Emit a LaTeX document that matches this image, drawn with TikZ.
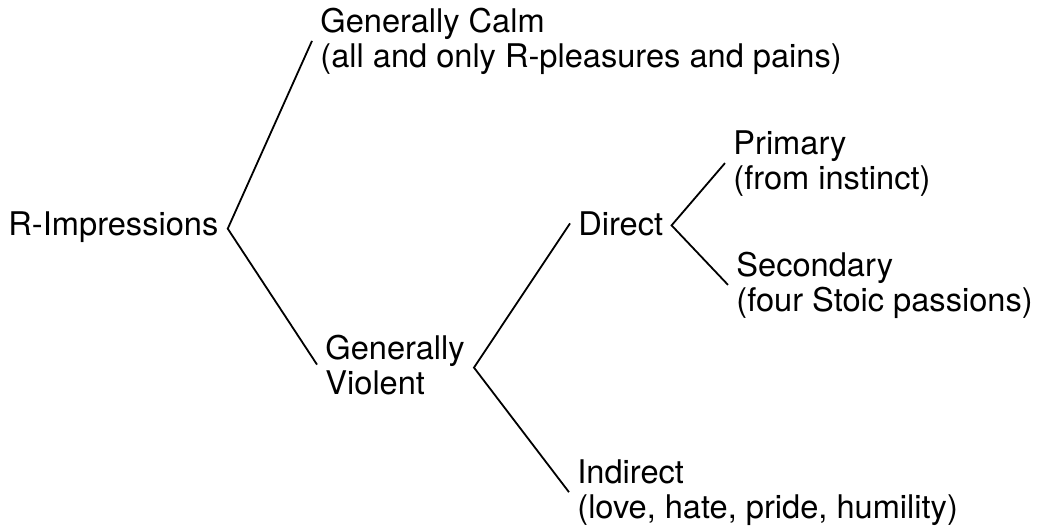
\documentclass[tikz,border=0pt]{standalone}
\usepackage{fontspec}
\setmainfont{TeX Gyre Heros}
\usetikzlibrary{calc}

\begin{document}
\begin{tikzpicture}[x=0.5pt,y=-0.5pt,
  item/.style={anchor=base west,inner sep=4pt,align=left,
               font=\fontsize{16.3}{17.5}\selectfont},
  branch/.style={draw,line width=0.9pt}]
\useasboundingbox (0,0) rectangle (1039,527);
% base anchors sit on the last line of each label
\node[item] (root)      at (0,235)   {R-Impressions};
\node[item] (calm)      at (312,67)  {Generally Calm\\(all and only R-pleasures and pains)};
\node[item] (violent)   at (317,394) {Generally\\Violent};
\node[item] (direct)    at (570,235) {Direct};
\node[item] (indirect)  at (569,518) {Indirect\\(love, hate, pride, humility)};
\node[item] (primary)   at (725,189) {Primary\\(from instinct)};
\node[item] (secondary) at (728,311) {Secondary\\(four Stoic passions)};
% forks sit just right of each parent
\coordinate (rootfork)    at ($(root.east)+(1,2)$);
\coordinate (violentfork) at ($(violent.east)+(1,3)$);
\coordinate (directfork)  at ($(direct.east)+(0,2)$);
\path[branch] (calm.west)    -- (rootfork)    -- (violent.west);
\path[branch] (direct.west)  -- (violentfork) -- (indirect.west);
\path[branch] (primary.west) -- (directfork)  -- (secondary.west);
\end{tikzpicture}
\end{document}
